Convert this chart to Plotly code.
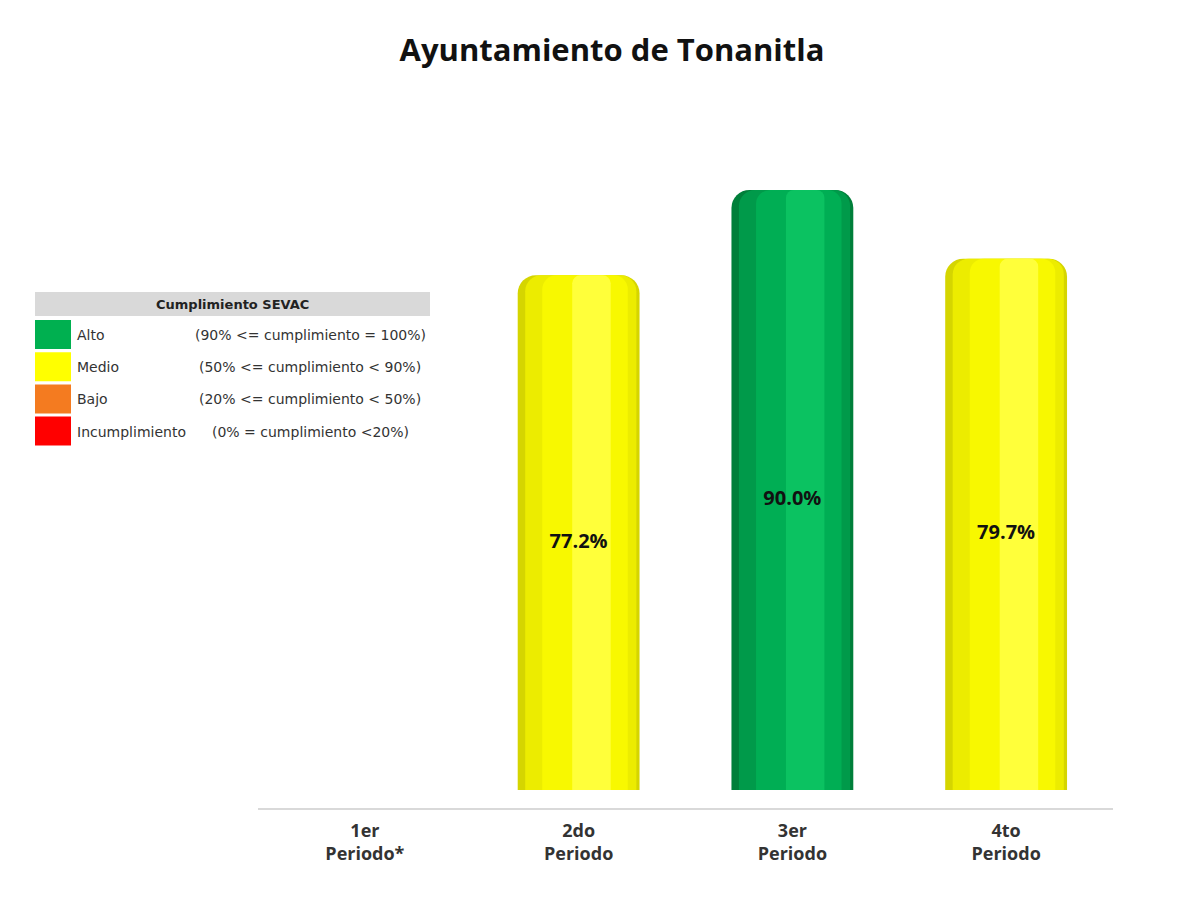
import plotly.graph_objects as go

# Datos del cumplimiento SEVAC por periodo
periodos = ['1er<br>Periodo*', '2do<br>Periodo', '3er<br>Periodo', '4to<br>Periodo']
cumplimiento = [None, 77.2, 90.0, 79.7]

# Escala de semaforización
niveles = ['Alto', 'Medio', 'Bajo', 'Incumplimiento']
rangos = ['(90% <= cumplimiento = 100%)', '(50% <= cumplimiento < 90%)',
          '(20% <= cumplimiento < 50%)', '(0% = cumplimiento <20%)']
limites = [90, 50, 20, 0]
colores_nivel = ['#00B050', '#FFFF00', '#F47B20', '#FF0000']

# tonos para el efecto de cilindro (oscuro -> claro)
tonos = {
    'Alto': ['#007F3A', '#009A4A', '#00AE54', '#0BC261'],
    'Medio': ['#D5D500', '#ECEC00', '#F8F800', '#FFFF3A'],
    'Bajo': ['#D86A18', '#EC761E', '#F47B20', '#FF9440'],
    'Incumplimiento': ['#CC0000', '#E80000', '#FF0000', '#FF3030'],
}


def nivel(v):
    for n, lim in zip(niveles, limites):
        if v >= lim:
            return n
    return niveles[-1]


fig = go.Figure()

# capas del cilindro
anchos = [0.57, 0.52, 0.40, 0.18]
offsets = [-0.285, -0.25, -0.17, -0.03]
radios = [18, 16, 14, 8]
for i, (w, off, rad) in enumerate(zip(anchos, offsets, radios)):
    cols = [tonos[nivel(v)][i] if v is not None else '#FFFFFF' for v in cumplimiento]
    fig.add_trace(go.Bar(
        x=periodos,
        y=cumplimiento,
        width=w,
        offset=off,
        marker=dict(color=cols, line=dict(width=0), cornerradius=rad),
        hovertemplate='%{x}: %{y:.1f}%<extra></extra>',
        showlegend=False,
    ))

# etiquetas de valor
fig.add_trace(go.Scatter(
    x=[p for p, v in zip(periodos, cumplimiento) if v is not None],
    y=[v / 2 for v in cumplimiento if v is not None],
    text=[f'{v:.1f}%' for v in cumplimiento if v is not None],
    mode='text',
    textposition='bottom center',
    textfont=dict(size=20, color='#111111', family='Open Sans'),
    texttemplate='<b>%{text}</b>',
    hoverinfo='skip',
    showlegend=False,
))

# geometría del área de trazo (px de pantalla; la página tiene 8 px de margen)
OFF = 8
L, R, T, B = 258, 1113, 129, 808
W, H = R - L, B - T


def px(x):
    return (x - L) / W


def py(y):
    return (B - y) / H


shapes = []
annotations = []

# cuadro de semaforización
shapes.append(dict(type='rect', xref='paper', yref='paper',
                   x0=px(35), x1=px(430), y0=py(316), y1=py(292),
                   fillcolor='#D9D9D9', line=dict(width=0)))
annotations.append(dict(xref='paper', yref='paper', x=px(232), y=py(304),
                        xanchor='center', yanchor='middle',
                        text='<b>Cumplimiento SEVAC</b>', showarrow=False,
                        font=dict(size=13, color='#222222', family='DejaVu Sans')))
for i, (n, r, c) in enumerate(zip(niveles, rangos, colores_nivel)):
    top = 320 + i * 32.2
    shapes.append(dict(type='rect', xref='paper', yref='paper',
                       x0=px(35), x1=px(71), y0=py(top + 29), y1=py(top),
                       fillcolor=c, line=dict(width=0)))
    annotations.append(dict(xref='paper', yref='paper', x=px(75), y=py(top + 15),
                            xanchor='left', yanchor='middle', text=n, showarrow=False,
                            font=dict(size=14, color='#333333', family='DejaVu Sans')))
    annotations.append(dict(xref='paper', yref='paper', x=px(310), y=py(top + 15),
                            xanchor='center', yanchor='middle', text=r, showarrow=False,
                            font=dict(size=14, color='#333333', family='DejaVu Sans')))

fig.update_layout(
    title=dict(
        text='<b>Ayuntamiento de Tonanitla</b>',
        font=dict(size=31, family='Open Sans', color='#111111'),
        x=(612 - OFF) / 1201, xanchor='center',
        y=1 - (50 - OFF) / 907, yanchor='middle'
    ),
    barmode='overlay',
    xaxis=dict(
        showline=True, linecolor='#D9D9D9', linewidth=2,
        showgrid=False, ticks='',
        tickfont=dict(size=18, color='#333333', family='Open Sans'),
        ticklabelstandoff=5,
    ),
    yaxis=dict(range=[-2.7, 99.15], visible=False, showgrid=False, zeroline=False),
    shapes=shapes,
    annotations=annotations,
    width=1201,
    height=907,
    margin=dict(l=L - OFF, r=1201 - (R - OFF), t=T - OFF, b=907 - (B - OFF)),
    plot_bgcolor='white',
    paper_bgcolor='white',
)
fig.update_xaxes(tickprefix='<b>', ticksuffix='</b>')

fig.write_html('out.html')
